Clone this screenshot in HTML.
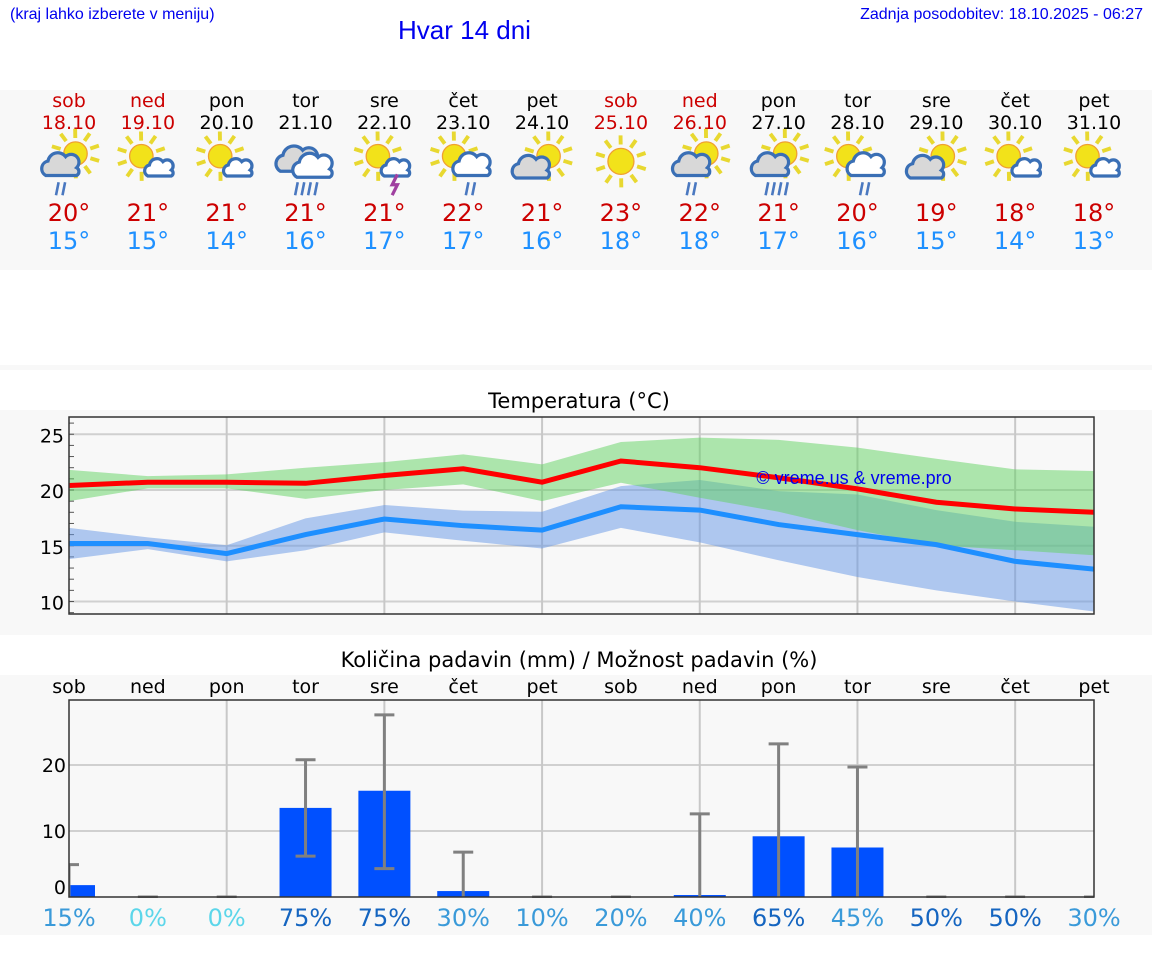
<!DOCTYPE html>
<html><head><meta charset="utf-8"><style>
body{margin:0;width:1152px;height:975px;background:#fff;overflow:hidden;position:relative;font-family:"DejaVu Sans","Liberation Sans",sans-serif}
.abs{position:absolute}
</style></head><body>
<div class="abs" style="left:10px;top:6px;font:16px 'Liberation Sans',sans-serif;color:#0000ee">(kraj lahko izberete v meniju)</div>
<div class="abs" style="left:398px;top:15px;font:26px 'Liberation Sans',sans-serif;color:#0000ee">Hvar 14 dni</div>
<div class="abs" style="right:9px;top:6px;font:16px 'Liberation Sans',sans-serif;color:#0000ee">Zadnja posodobitev: 18.10.2025 - 06:27</div>
<svg id="svg" class="abs" style="left:0;top:0" width="1152" height="975"></svg>
<script>
const days=["sob","ned","pon","tor","sre","čet","pet","sob","ned","pon","tor","sre","čet","pet"];
const dates=["18.10","19.10","20.10","21.10","22.10","23.10","24.10","25.10","26.10","27.10","28.10","29.10","30.10","31.10"];
const weekend=[1,1,0,0,0,0,0,1,1,0,0,0,0,0];
const icons=["sgr","sc","sc","cr","st","swr","sg","s","sgr","sgr4","swr","sg","sc","sc"];
const tMax=[20.4,20.7,20.7,20.6,21.3,21.9,20.7,22.6,22.0,21.1,20.1,18.9,18.3,18.0];
const tMin=[15.2,15.2,14.3,16.0,17.4,16.8,16.4,18.5,18.2,16.9,16.0,15.1,13.6,12.9];
const gHi=[21.8,21.25,21.4,22.0,22.5,23.2,22.3,24.3,24.7,24.5,23.8,22.8,21.85,21.7];
const gLo=[19.0,20.15,20.15,19.2,20.0,20.5,19.0,20.65,19.3,18.05,16.4,15.05,14.6,14.15];
const bHi=[16.6,15.75,15.05,17.45,18.65,18.15,18.05,20.35,20.9,19.9,19.6,18.2,17.15,16.7];
const bLo=[13.8,14.7,13.6,14.6,16.2,15.45,14.75,16.6,15.3,13.7,12.2,11.0,10.0,9.1];
const maxLbl=[20,21,21,21,21,22,21,23,22,21,20,19,18,18];
const minLbl=[15,15,14,16,17,17,16,18,18,17,16,15,14,13];
const rain=[1.8,0,0,13.5,16.1,0.9,0,0,0.3,9.2,7.5,0,0,0];
const rainHi=[4.9,0,0,20.8,27.6,6.8,0,0,12.6,23.2,19.7,0,0,0];
const rainLo=[0,0,0,6.2,4.3,0,0,0,0,0,0,0,0,0];
const prob=[15,0,0,75,75,30,10,20,40,65,45,50,50,30];
const tTicks=[10,15,20,25];
const rTicks=[0,10,20];

const NS="http://www.w3.org/2000/svg";
const svg=document.getElementById('svg');
function mk(tag,attrs,parent){const e=document.createElementNS(NS,tag);for(const k in attrs)e.setAttribute(k,attrs[k]);(parent||svg).appendChild(e);return e;}
const X0=69,X1=1094;
const xs=i=>X0+i*(X1-X0)/13;
const yT=v=>490-(v-20)*11.15;
const yR=v=>897-v*6.6;

let r;
r=mk('rect',{x:0,y:90,width:1152,height:180,fill:'#f8f8f8'});
r=mk('rect',{x:0,y:365,width:1152,height:5,fill:'#f8f8f8'});
r=mk('rect',{x:0,y:410,width:1152,height:225,fill:'#f8f8f8'});
r=mk('rect',{x:0,y:675,width:1152,height:260,fill:'#f8f8f8'});

function txt(x,y,s,size,fill,name,anchor){const t=mk('text',{x:x,y:y,'font-size':size,fill:fill,'text-anchor':anchor||'middle','font-family':'DejaVu Sans, sans-serif'});t.textContent=s;return t;}

function sun(g,cx,cy,r){for(let k=0;k<10;k++){const a=k*Math.PI/5+0.3;mk('line',{x1:cx+Math.cos(a)*(r+3),y1:cy+Math.sin(a)*(r+3),x2:cx+Math.cos(a)*(r+10),y2:cy+Math.sin(a)*(r+10),stroke:'#e8d830','stroke-width':3},g);}mk('circle',{cx:cx,cy:cy,r:r,fill:'#f2e21a',stroke:'#f0a030','stroke-width':1},g);}
function cloud(g,cx,cy,s,fill){const p=`M${cx-14*s},${cy+8*s} a${7*s},${7*s} 0 0 1 ${2*s},${-13*s} a${9*s},${9*s} 0 0 1 ${16*s},${-4*s} a${7*s},${7*s} 0 0 1 ${10*s},${10*s} a${4*s},${4*s} 0 0 1 ${0},${7*s} z`;mk('path',{d:p,fill:fill,stroke:'#3a6fb5','stroke-width':2.5},g);}
function drops(g,cx,cy,n){for(let k=0;k<n;k++){mk('line',{x1:cx+k*5+2,y1:cy,x2:cx+k*5,y2:cy+10,stroke:'#4a78c0','stroke-width':2},g);}}
function icon(i,type){const cx=xs(i),cy=160;const g=mk('g',{transform:`translate(${cx},${cy+4}) scale(1.3) translate(${-cx},${-cy})`});
 if(type==='s'){sun(g,cx,cy-2,10);}
 if(type==='sc'){sun(g,cx-5,cy-6,9);cloud(g,cx+9,cy+4,0.65,'#fff');}
 if(type==='st'){sun(g,cx-5,cy-6,9);cloud(g,cx+9,cy+4,0.65,'#fff');mk('path',{d:`M${cx+10},${cy+8} l-4,8 h4 l-4,8`,stroke:'#a040a0','stroke-width':2.5,fill:'none'},g);}
 if(type==='sg'){sun(g,cx+5,cy-6,9);cloud(g,cx-8,cy+4,0.85,'#d8d8d8');}
 if(type==='sgr'||type==='sgr4'){sun(g,cx+5,cy-8,9);cloud(g,cx-6,cy+2,0.85,'#d8d8d8');drops(g,cx-10,cy+14,type==='sgr4'?4:2);}
 if(type==='swr'){sun(g,cx-7,cy-6,9);cloud(g,cx+7,cy+2,0.85,'#fff');drops(g,cx+2,cy+14,2);}
 if(type==='cr'){cloud(g,cx-6,cy-2,0.95,'#d8d8d8');cloud(g,cx+6,cy+3,0.9,'#fff');drops(g,cx-8,cy+14,4);}
}
for(let i=0;i<14;i++){
 const c=weekend[i]?'#cc0000':'#000';
 txt(xs(i),107,days[i],19,c,'day-name-'+i);
 txt(xs(i),129,dates[i],19,c,'day-date-'+i);
 icon(i,icons[i]);
 txt(xs(i),221,maxLbl[i]+'°',24,'#cc0000','max-temp-'+i);
 txt(xs(i),249,minLbl[i]+'°',24,'#1e90ff','min-temp-'+i);
}

txt(579,408,'Temperatura (°C)',21,'#000','temperature-title');
r=mk('rect',{x:X0,y:417,width:X1-X0,height:197,fill:'#f8f8f8'});
const clipT=mk('clipPath',{id:'ct'});mk('rect',{x:X0,y:417,width:X1-X0,height:197},clipT);
for(const t of tTicks){mk('line',{x1:X0,x2:X1,y1:yT(t),y2:yT(t),stroke:'#d0d0d0','stroke-width':2});txt(X0-5,yT(t)+8,String(t),19,'#000','y-tick-'+t,'end');}
for(let v=9;v<=26;v++){mk('line',{x1:X0,x2:X0+5,y1:yT(v),y2:yT(v),stroke:'#555','stroke-width':1});}
for(let i=2;i<14;i+=2){mk('line',{x1:xs(i),x2:xs(i),y1:417,y2:614,stroke:'#c8c8c8','stroke-width':2});}
function band(hi,lo,fill,name){let d='M'+hi.map((v,i)=>xs(i)+','+yT(v)).join(' L')+' L'+lo.map((v,i)=>xs(i)+','+yT(v)).reverse().join(' L')+'Z';const p=mk('path',{d:d,fill:fill,'clip-path':'url(#ct)'});}
band(bHi,bLo,'rgba(100,150,230,0.5)','min-temp-range');
band(gHi,gLo,'rgba(95,210,95,0.5)','max-temp-range');
function line(vals,col,name){const p=mk('polyline',{points:vals.map((v,i)=>xs(i)+','+yT(v)).join(' '),fill:'none',stroke:col,'stroke-width':5,'clip-path':'url(#ct)'});}
line(tMax,'#ff0000','max-temp-line');
line(tMin,'#1e8fff','min-temp-line');
r=mk('rect',{x:X0,y:417,width:X1-X0,height:197,fill:'none',stroke:'#333','stroke-width':1.5});
const wm=mk('text',{x:854,y:484,'font-size':18,fill:'#0000ee','text-anchor':'middle','font-family':'Liberation Sans, sans-serif'});wm.textContent='© vreme.us & vreme.pro';

txt(579,667,'Količina padavin (mm) / Možnost padavin (%)',21,'#000','precip-title');
for(let i=0;i<14;i++)txt(xs(i),693,days[i],19,'#000','precip-day-'+i);
r=mk('rect',{x:X0,y:700,width:X1-X0,height:197,fill:'#f8f8f8'});
const clipR=mk('clipPath',{id:'cr'});mk('rect',{x:X0,y:698,width:X1-X0,height:200},clipR);
for(const t of rTicks){if(t>0)mk('line',{x1:X0,x2:X1,y1:yR(t),y2:yR(t),stroke:'#d0d0d0','stroke-width':2});txt(X0-3,yR(t)+(t===0?-3:7),String(t),19,'#000','precip-tick-'+t,'end');}
for(let i=2;i<14;i+=2){mk('line',{x1:xs(i),x2:xs(i),y1:700,y2:897,stroke:'#c8c8c8','stroke-width':2});}
for(let i=0;i<14;i++){
 if(rain[i]>0){const b=mk('rect',{x:xs(i)-26,y:yR(rain[i]),width:52,height:yR(0)-yR(rain[i]),fill:'#0050ff','clip-path':'url(#cr)'});}
 const g=mk('g',{stroke:'#808080','stroke-width':3,'clip-path':'url(#cr)'});
 mk('line',{x1:xs(i),x2:xs(i),y1:yR(rainLo[i]),y2:yR(rainHi[i])},g);
 mk('line',{x1:xs(i)-10,x2:xs(i)+10,y1:yR(rainHi[i]),y2:yR(rainHi[i])},g);
 if(rainLo[i]>0)mk('line',{x1:xs(i)-10,x2:xs(i)+10,y1:yR(rainLo[i]),y2:yR(rainLo[i])},g);
 const p=prob[i];const col=p===0?'#5cd6ea':(p>=50?'#1565c0':'#3a9ad9');
 txt(xs(i),926,p+'%',24,col,'precip-prob-'+i);
}
r=mk('rect',{x:X0,y:700,width:X1-X0,height:197,fill:'none',stroke:'#333','stroke-width':1.5});
</script>
</body></html>
